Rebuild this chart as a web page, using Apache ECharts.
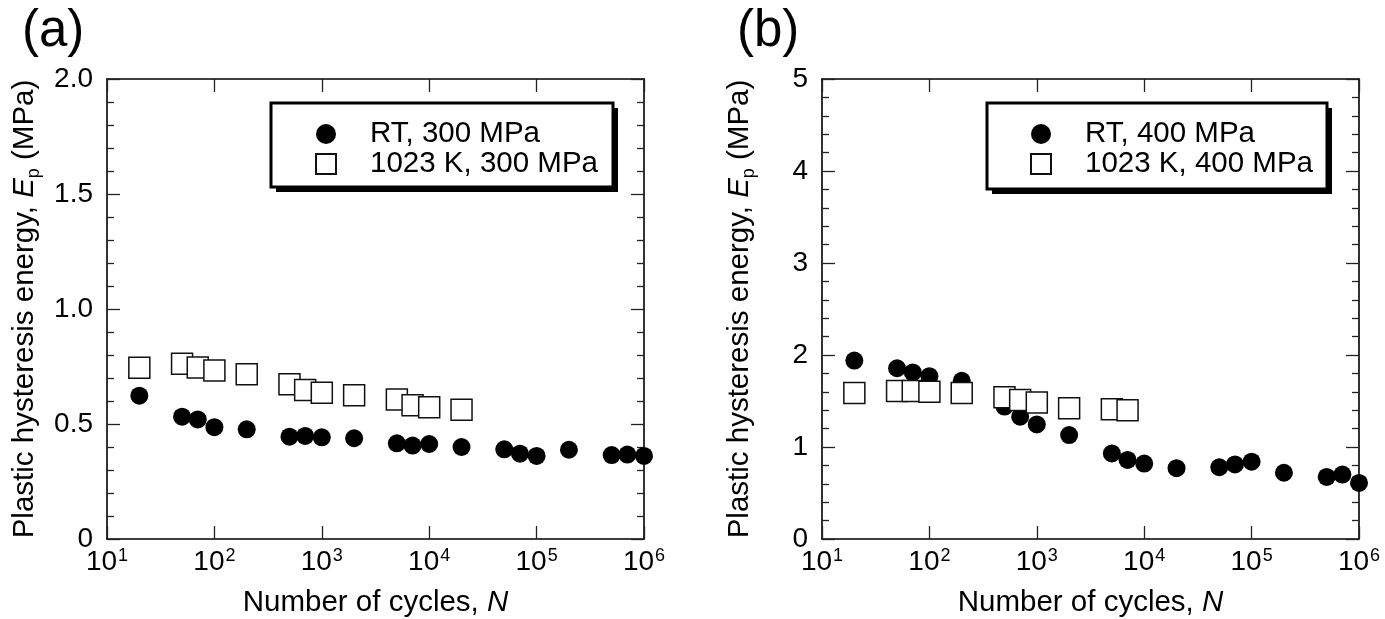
<!DOCTYPE html>
<html>
<head>
<meta charset="utf-8">
<script src="https://cdn.jsdelivr.net/npm/echarts@6/dist/echarts.min.js"></script>
<style>
html,body{margin:0;padding:0;background:#fff;}
#chart{width:1385px;height:619px;}
</style>
</head>
<body>
<div id="chart"></div>
<script>
// ---- data ----
const cyclesRT = [20, 50, 70, 100, 200, 500, 700, 1000, 2000, 5000, 7000, 1e4, 2e4, 5e4, 7e4, 1e5, 2e5, 5e5, 7e5, 1e6];
const epRT300 = [0.623, 0.532, 0.52, 0.486, 0.477, 0.445, 0.448, 0.442, 0.438, 0.416, 0.406, 0.413, 0.40, 0.39, 0.371, 0.361, 0.388, 0.365, 0.367, 0.361];
const cyclesHT300 = [20, 50, 70, 100, 200, 500, 700, 1000, 2000, 5000, 7000, 1e4, 2e4];
const epHT300 = [0.745, 0.762, 0.746, 0.733, 0.716, 0.673, 0.648, 0.636, 0.625, 0.606, 0.581, 0.573, 0.562];
const epRT400 = [1.94, 1.856, 1.81, 1.77, 1.72, 1.44, 1.33, 1.245, 1.13, 0.93, 0.86, 0.82, 0.77, 0.78, 0.81, 0.84, 0.72, 0.675, 0.70, 0.61];
const cyclesHT400 = [20, 50, 70, 100, 200, 500, 700, 1000, 2000, 5000, 7000];
const epHT400 = [1.586, 1.61, 1.61, 1.60, 1.586, 1.54, 1.51, 1.485, 1.42, 1.41, 1.40];

const seriesNames = ['RT, 300 MPa', '1023 K, 300 MPa', 'RT, 400 MPa', '1023 K, 400 MPa'];
const panelLabels = ['(a)', '(b)'];
const yTicksA = ['0', '0.5', '1.0', '1.5', '2.0'];
const yTicksB = ['0', '1', '2', '3', '4', '5'];
const xExponents = [1, 2, 3, 4, 5, 6];
const xTitle = 'Number of cycles, ';
const xTitleVar = 'N';
const yTitle = 'Plastic hysteresis energy, ';
const yTitleVar = 'E';
const yTitleSub = 'p';
const yTitleUnit = ' (MPa)';

// ---- styles ----
const FONT = '"Liberation Sans", Arial, Helvetica, sans-serif';
const LINE = { color: '#000', width: 1.6 };
const TICK = { color: '#222', width: 1.3 };
const TITLE_SIZE = 29.5;
const TICK_SIZE = 28;

function pairs(xs, ys) { return xs.map((x, i) => [x, ys[i]]); }

function expLabel(v) {
  const e = Math.round(Math.log10(v));
  const k = xExponents.indexOf(e);
  return '{b|10}{s|' + (k >= 0 ? xExponents[k] : e) + '}';
}

function xAxes(gridIndex) {
  const common = {
    type: 'log', logBase: 10, min: 10, max: 1e6, interval: 1,
    gridIndex: gridIndex,
    axisLine: { show: true, onZero: false, lineStyle: LINE },
    axisTick: { show: true, inside: true, length: 13, lineStyle: TICK },
    splitLine: { show: false }
  };
  return [
    Object.assign({}, common, {
      position: 'bottom',
      name: '{n|' + xTitle + '}{i|' + xTitleVar + '}',
      nameLocation: 'middle', nameGap: 49,
      nameTextStyle: {
        fontFamily: FONT, fontSize: TITLE_SIZE, color: '#000',
        rich: {
          n: { fontFamily: FONT, fontSize: TITLE_SIZE, color: '#000' },
          i: { fontFamily: FONT, fontSize: TITLE_SIZE, color: '#000', fontStyle: 'italic' }
        }
      },
      axisLabel: {
        show: true, margin: 8, showMinLabel: true, showMaxLabel: true,
        fontFamily: FONT, fontSize: TICK_SIZE, color: '#000',
        formatter: expLabel,
        rich: {
          b: { fontFamily: FONT, fontSize: TICK_SIZE, color: '#000', height: 30 },
          s: { fontFamily: FONT, fontSize: 18, color: '#000', verticalAlign: 'top', height: 18, padding: [0, 0, 0, 1] }
        }
      }
    }),
    Object.assign({}, common, {
      position: 'top',
      axisLabel: { show: false }
    })
  ];
}

function yAxes(gridIndex, max, interval, labels) {
  const common = {
    type: 'value', min: 0, max: max, interval: interval,
    gridIndex: gridIndex,
    axisLine: { show: true, onZero: false, lineStyle: LINE },
    axisTick: { show: true, inside: true, length: 13, lineStyle: TICK },
    minorTick: { show: true, splitNumber: 5, length: 7, lineStyle: TICK },
    splitLine: { show: false }
  };
  return [
    Object.assign({}, common, {
      position: 'left',
      name: '{n|' + yTitle + '}{i|' + yTitleVar + '}{s|' + yTitleSub + '}{n|' + yTitleUnit + '}',
      nameLocation: 'middle', nameGap: 64, nameRotate: 90,
      nameTextStyle: {
        fontFamily: FONT, fontSize: TITLE_SIZE, color: '#000',
        rich: {
          n: { fontFamily: FONT, fontSize: TITLE_SIZE, color: '#000', lineHeight: 36 },
          i: { fontFamily: FONT, fontSize: TITLE_SIZE, color: '#000', fontStyle: 'italic', lineHeight: 36 },
          s: { fontFamily: FONT, fontSize: 18, color: '#000', verticalAlign: 'bottom', lineHeight: 18 }
        }
      },
      axisLabel: {
        show: true, margin: 14, fontFamily: FONT, fontSize: TICK_SIZE, color: '#000',
        formatter: function (v) {
          const k = Math.round(v / interval);
          return labels[k] !== undefined ? labels[k] : String(v);
        }
      }
    }),
    Object.assign({}, common, {
      position: 'right',
      axisLabel: { show: false }
    })
  ];
}

function legendFor(names, left) {
  return {
    data: names,
    orient: 'vertical',
    left: left, top: 119, z: 10,
    itemWidth: 20, itemHeight: 20, itemGap: 0,
    padding: 0,
    backgroundColor: 'transparent', borderWidth: 0,
    textStyle: { fontFamily: FONT, fontSize: TITLE_SIZE, color: '#000', lineHeight: 20, padding: [0, 0, 0, 29] },
    selectedMode: false
  };
}

function legendBox(x, y, w, h) {
  return [
    { type: 'rect', z: 1, silent: true, shape: { x: x + 5, y: y + 5, width: w, height: h }, style: { fill: '#000' } },
    { type: 'rect', z: 2, silent: true, shape: { x: x, y: y, width: w, height: h }, style: { fill: '#fff', stroke: '#000', lineWidth: 3 } }
  ];
}

const circleStyle = { color: '#000', opacity: 1 };
const squareStyle = { color: '#fff', borderColor: '#111', borderWidth: 1.5, opacity: 1 };

const option = {
  animation: false,
  backgroundColor: '#fff',
  textStyle: { fontFamily: FONT },
  title: [
    { text: panelLabels[0], left: 17, top: 1, textStyle: { fontFamily: FONT, fontSize: 51, fontWeight: 'normal', color: '#000' } },
    { text: panelLabels[1], left: 732, top: 1, textStyle: { fontFamily: FONT, fontSize: 51, fontWeight: 'normal', color: '#000' } }
  ],
  graphic: legendBox(271, 103, 342, 84).concat(legendBox(987, 103, 340, 86)),
  legend: [
    legendFor([seriesNames[0], seriesNames[1]], 315),
    legendFor([seriesNames[2], seriesNames[3]], 1030)
  ],
  grid: [
    { left: 107, top: 79, width: 537, height: 460, containLabel: false, outerBoundsMode: 'none' },
    { left: 822, top: 79, width: 537, height: 460, containLabel: false, outerBoundsMode: 'none' }
  ],
  xAxis: xAxes(0).concat(xAxes(1)),
  yAxis: yAxes(0, 2.0, 0.5, yTicksA).concat(yAxes(1, 5, 1, yTicksB)),
  series: [
    { name: seriesNames[0], type: 'scatter', xAxisIndex: 0, yAxisIndex: 0, symbol: 'circle', symbolSize: 18,
      itemStyle: circleStyle, clip: false, data: pairs(cyclesRT, epRT300) },
    { name: seriesNames[1], type: 'scatter', xAxisIndex: 0, yAxisIndex: 0, symbol: 'rect', symbolSize: 21,
      itemStyle: squareStyle, clip: false, data: pairs(cyclesHT300, epHT300) },
    { name: seriesNames[2], type: 'scatter', xAxisIndex: 2, yAxisIndex: 2, symbol: 'circle', symbolSize: 18,
      itemStyle: circleStyle, clip: false, data: pairs(cyclesRT, epRT400) },
    { name: seriesNames[3], type: 'scatter', xAxisIndex: 2, yAxisIndex: 2, symbol: 'rect', symbolSize: 21,
      itemStyle: squareStyle, clip: false, data: pairs(cyclesHT400, epHT400) }
  ]
};

const chart = echarts.init(document.getElementById('chart'), null, { renderer: 'canvas' });
chart.setOption(option);
</script>
</body>
</html>
